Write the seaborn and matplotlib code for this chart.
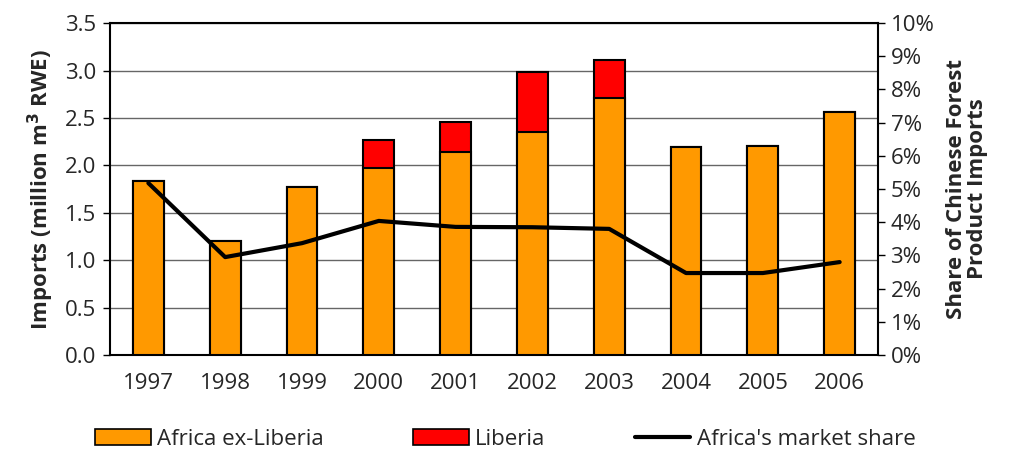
import matplotlib
matplotlib.use("Agg")
import matplotlib.pyplot as plt
import numpy as np
import pandas as pd
import seaborn as sns
from matplotlib.patches import Patch
from matplotlib.lines import Line2D

# data
years = ["1997", "1998", "1999", "2000", "2001", "2002", "2003", "2004", "2005", "2006"]
africa_ex_liberia = [1.84, 1.20, 1.77, 1.97, 2.14, 2.35, 2.71, 2.19, 2.20, 2.56]
liberia = [0.0, 0.0, 0.0, 0.30, 0.32, 0.63, 0.40, 0.0, 0.0, 0.0]
market_share = [5.18, 2.95, 3.37, 4.04, 3.86, 3.85, 3.80, 2.47, 2.47, 2.80]

df = pd.DataFrame({
    "year": years,
    "africa": africa_ex_liberia,
    "total": np.array(africa_ex_liberia) + np.array(liberia),
    "share": market_share,
})

sns.set_style("white")
plt.rcParams["font.family"] = ["Open Sans", "DejaVu Sans"]
fs = 16

fig = plt.figure(figsize=(10.21, 4.53), dpi=100)
ax = fig.add_axes([0.1077, 0.2163, 0.7523, 0.7327])

orange = "#FF9900"
red = "#FF0000"

# stacked bars: total (red) behind, Africa ex-Liberia (orange) in front
sns.barplot(data=df, x="year", y="total", color=red, width=0.4,
            edgecolor="black", linewidth=1.5, saturation=1, ax=ax, zorder=2)
sns.barplot(data=df, x="year", y="africa", color=orange, width=0.4,
            edgecolor="black", linewidth=1.5, saturation=1, ax=ax, zorder=3)

ax.set_ylim(0, 3.5)
ax.set_yticks(np.arange(0, 3.51, 0.5))
ax.set_yticklabels([f"{v:.1f}" for v in np.arange(0, 3.51, 0.5)], fontsize=fs)
ax.set_xlim(-0.5, len(years) - 0.5)
ax.set_xticks(np.arange(len(years)))
ax.set_xticklabels(years, fontsize=fs)
ax.tick_params(axis="x", length=0, pad=13)
ax.set_xticks(np.arange(-0.5, len(years)), minor=True)
ax.tick_params(axis="x", which="minor", length=6, width=1, color="black", direction="out")
ax.tick_params(axis="y", length=5, width=1, color="black", direction="out", left=True, pad=5)
ax.yaxis.grid(True, color="#666666", linewidth=1, zorder=0)
ax.set_axisbelow(True)
for sp in ax.spines.values():
    sp.set_color("black")
    sp.set_linewidth(1.5)
ax.set_xlabel("")
ax.set_ylabel("Imports (million m$^\\mathbf{3}$ RWE)", fontsize=16, fontweight="bold",
              labelpad=6)

ax2 = ax.twinx()
sns.lineplot(x=np.arange(len(years)), y=df["share"], color="black",
             linewidth=3, ax=ax2, zorder=5)
ax2.set_ylim(0, 10)
ax2.set_yticks(np.arange(0, 11, 1))
ax2.set_yticklabels([f"{v}%" for v in range(0, 11)], fontsize=fs)
ax2.tick_params(axis="y", length=5, width=1, color="black", direction="out", right=True, pad=4)
ax2.set_ylabel("Share of Chinese Forest\nProduct Imports", fontsize=16,
               fontweight="bold", labelpad=8, linespacing=1.05)
for sp in ax2.spines.values():
    sp.set_visible(False)
ax.set_xlim(-0.5, len(years) - 0.5)

handles = [
    Patch(facecolor=orange, edgecolor="black", linewidth=1.2, label="Africa ex-Liberia"),
    Patch(facecolor=red, edgecolor="black", linewidth=1.2, label="Liberia"),
    Line2D([0], [0], color="black", linewidth=3, label="Africa's market share"),
]
fig.legend(handles=handles, loc="center", bbox_to_anchor=(0.495, 0.03), ncol=3,
           frameon=False, fontsize=fs, handlelength=2.5, handletextpad=0.3,
           columnspacing=4.0)

fig.savefig("out.png", dpi=100)
